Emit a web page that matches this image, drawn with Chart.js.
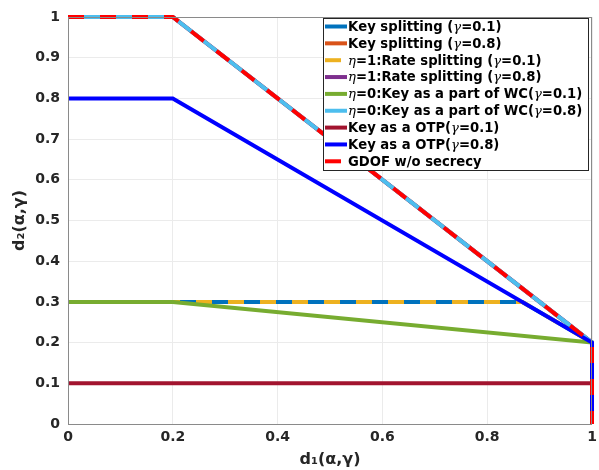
<!DOCTYPE html>
<html>
<head>
<meta charset="utf-8">
<script src="https://cdn.jsdelivr.net/npm/chart.js@4"></script>
<style>
  body { margin: 0; background: #fff; }
  canvas { display: block; }
</style>
</head>
<body>
<canvas id="gdof" width="599" height="470"></canvas>
<script>
// series values (x = d1, y = d2)
const keySplit01X = [0, 0.2, 0.867, 1, 1];
const keySplit01Y = [0.3, 0.3, 0.3, 0.2, 0];
const keySplit08X = [0, 0.2, 1, 1];
const keySplit08Y = [1, 1, 0.2, 0];
const rateSplit01X = [0, 0.2, 0.867, 1, 1];
const rateSplit01Y = [0.3, 0.3, 0.3, 0.2, 0];
const rateSplit08X = [0, 0.2, 1, 1];
const rateSplit08Y = [1, 1, 0.2, 0];
const wc01X = [0, 0.2, 1, 1];
const wc01Y = [0.3, 0.3, 0.2, 0];
const wc08X = [0, 0.2, 1, 1];
const wc08Y = [1, 1, 0.2, 0];
const otp01X = [0, 1, 1];
const otp01Y = [0.1, 0.1, 0];
const otp08X = [0, 0.2, 1, 1];
const otp08Y = [0.8, 0.8, 0.2, 0];
const gdofX = [0, 0.2, 1, 1];
const gdofY = [1, 1, 0.2, 0];

const seriesLabels = [
  'Key splitting (γ=0.1)',
  'Key splitting (γ=0.8)',
  'η=1:Rate splitting (γ=0.1)',
  'η=1:Rate splitting (γ=0.8)',
  'η=0:Key as a part of WC(γ=0.1)',
  'η=0:Key as a part of WC(γ=0.8)',
  'Key as a OTP(γ=0.1)',
  'Key as a OTP(γ=0.8)',
  'GDOF w/o secrecy',
];
const xTicks = [0, 0.2, 0.4, 0.6, 0.8, 1];

const toPoints = (xs, ys) => xs.map((x, i) => ({ x: x, y: ys[i] }));

const series = [
  { xs: keySplit01X, ys: keySplit01Y, color: '#0072BD', dash: [] },
  { xs: keySplit08X, ys: keySplit08Y, color: '#D95319', dash: [] },
  { xs: rateSplit01X, ys: rateSplit01Y, color: '#EDB120', dash: [16, 16] },
  { xs: rateSplit08X, ys: rateSplit08Y, color: '#7E2F8E', dash: [] },
  { xs: wc01X, ys: wc01Y, color: '#77AC30', dash: [] },
  { xs: wc08X, ys: wc08Y, color: '#4DBEEE', dash: [] },
  { xs: otp01X, ys: otp01Y, color: '#A2142F', dash: [] },
  { xs: otp08X, ys: otp08Y, color: '#0000FF', dash: [] },
  { xs: gdofX, ys: gdofY, color: '#FF0000', dash: [16, 16] },
];

const datasets = series.map((s, i) => ({
  label: seriesLabels[i],
  data: toPoints(s.xs, s.ys),
  borderColor: s.color,
  backgroundColor: s.color,
  borderWidth: 4,
  borderDash: s.dash,
  pointRadius: 0,
  fill: false,
  tension: 0,
  clip: 6,
  order: series.length - i, // later series drawn on top, like the original
}));

// frame around the plot (top and right edges too)
const boxPlugin = {
  id: 'box',
  afterDatasetsDraw(chart) {
    const a = chart.chartArea;
    const c = chart.ctx;
    c.save();
    c.strokeStyle = '#8a8a8a';
    c.lineWidth = 1;
    c.strokeRect(a.left + 0.5, a.top + 0.5, a.right - a.left - 1, a.bottom - a.top);
    c.restore();
  },
};

// draws text, Greek letters in italic serif like TeX
const drawMixed = (c, text, x, y, size) => {
  let cx = x;
  for (const ch of text) {
    const greek = /[α-ω]/.test(ch);
    c.font = greek ? `italic ${size}px "DejaVu Serif"` : `bold ${size}px "DejaVu Sans"`;
    c.fillText(ch, cx, y);
    cx += c.measureText(ch).width;
  }
};

// legend box in the upper right corner
const legendPlugin = {
  id: 'matLegend',
  afterDraw(chart) {
    const c = chart.ctx;
    const left = 323, top = 18, right = 588, bottom = 170;
    c.save();
    c.fillStyle = '#fff';
    c.fillRect(left, top, right - left, bottom - top);
    c.strokeStyle = '#262626';
    c.lineWidth = 1;
    c.strokeRect(left + 0.5, top + 0.5, right - left, bottom - top);
    chart.data.datasets.forEach((ds, i) => {
      const y = 26.5 + i * 16.85;
      c.strokeStyle = ds.borderColor;
      c.lineWidth = 4;
      c.setLineDash(ds.borderDash.length ? [16, 16] : []);
      c.beginPath();
      c.moveTo(325, y);
      c.lineTo(347, y);
      c.stroke();
      c.setLineDash([]);
      c.fillStyle = '#000';
      c.textBaseline = 'middle';
      drawMixed(c, ds.label, 348, y + 1, 13.2);
    });
    c.restore();
  },
};

new Chart(document.getElementById('gdof'), {
  type: 'line',
  data: { datasets: datasets },
  options: {
    responsive: false,
    animation: false,
    layout: { padding: { top: 17, right: 7, left: 0, bottom: 0 } },
    plugins: {
      legend: { display: false },
      tooltip: { enabled: false },
    },
    scales: {
      x: {
        type: 'linear',
        min: 0,
        max: 1,
        afterFit: (scale) => { scale.height = 46; scale.paddingRight = 0; },
        afterBuildTicks: (scale) => { scale.ticks = xTicks.map((v) => ({ value: v })); },
        grid: { color: '#ebebeb', drawTicks: false },
        border: { display: false },
        ticks: {
          color: '#262626',
          padding: 5,
          font: { family: 'DejaVu Sans', size: 14, weight: 'bold' },
          callback: (v) => String(Math.round(v * 10) / 10),
        },
        title: {
          display: true,
          text: 'd₁(α,γ)',
          color: '#262626',
          padding: { top: 0, bottom: 1 },
          font: { family: 'DejaVu Sans', size: 16, weight: 'bold' },
        },
      },
      y: {
        type: 'linear',
        min: 0,
        max: 1,
        afterFit: (scale) => { scale.width = 68; },
        grid: { color: '#ebebeb', drawTicks: false },
        border: { display: false },
        ticks: {
          stepSize: 0.1,
          color: '#262626',
          padding: 8,
          font: { family: 'DejaVu Sans', size: 14, weight: 'bold' },
          callback: (v) => String(Math.round(v * 10) / 10),
        },
        title: {
          display: true,
          text: 'd₂(α,γ)',
          color: '#262626',
          padding: { top: 10, bottom: 0 },
          font: { family: 'DejaVu Sans', size: 16, weight: 'bold' },
        },
      },
    },
  },
  plugins: [boxPlugin, legendPlugin],
});
</script>
</body>
</html>
